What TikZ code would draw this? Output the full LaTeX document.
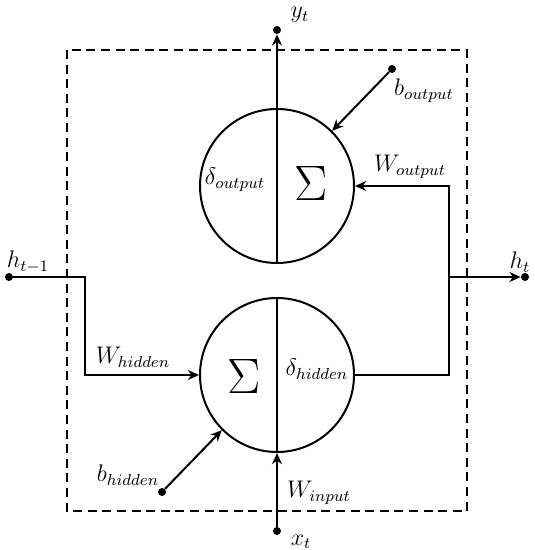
\documentclass[tikz,border=0pt]{standalone}
\usepackage{amssymb}
\usepackage{tikz}
\usetikzlibrary{arrows.meta,positioning,calc}
\definecolor{RNInk}{HTML}{000000}
\tikzset{
  flow/.style={-{Stealth[length=5.6pt,width=5pt]},RNInk,line width=1pt},
  wire/.style={RNInk,line width=1pt},
  frame/.style={RNInk,line width=0.95pt,dash pattern=on 4.5pt off 2.8pt},
  neuron/.style={circle,draw=RNInk,line width=1pt,minimum size=77pt,inner sep=0pt},
  port/.style={circle,fill=RNInk,inner sep=0pt,minimum size=4pt},
  iolabel/.style={text=RNInk,font=\large,inner sep=1pt},
  wlabel/.style={text=RNInk,font=\large,inner sep=1pt},
  sumsign/.style={text=RNInk,font=\fontsize{28}{32}\selectfont,inner sep=0pt},
}
\begin{document}
\begin{tikzpicture}[x=.5pt,y=-.5pt]
    \useasboundingbox (0,0) rectangle (534,550);
    % --- the cell boundary ---
    \draw[frame] (67,50) rectangle (467,511);

    % --- output and hidden units ---
    \node[neuron] (out) at (277,186) {};
    \node[neuron] (hid) at (277,375) {};
    \draw[wire] (hid.north) -- (hid.south);
    \node[sumsign] (outsum) at (311,184) {$\Sigma$};
    \node[iolabel] (outdelta) at (235,180) {$\delta_{output}$};
    \node[sumsign] (hidsum) at (244,377) {$\Sigma$};
    \node[iolabel] (hiddelta) at (317,369) {$\delta_{hidden}$};

    % --- terminals ---
    \node[port] (yt) at (277,30) {};
    \node[port] (xt) at (277,531) {};
    \node[port] (hprev) at (9,277) {};
    \node[port] (ht) at (525,277) {};
    \node[port] (bout) at (392,69) {};
    \node[port] (bhid) at (162,492) {};
    \node[iolabel] (ytlab) at (300,15) {$y_t$};
    \node[iolabel] (xtlab) at (301,542) {$x_t$};
    \node[iolabel] (hprevlab) at (28,262) {$h_{t-1}$};
    \node[iolabel] (htlab) at (520,262) {$h_t$};

    % --- weights and biases ---
    \node[wlabel] (boutlab) at (424,91) {$b_{output}$};
    \node[wlabel] (bhidlab) at (128,475) {$b_{hidden}$};
    \node[wlabel] (woutlab) at (410,167) {$W_{output}$};
    \node[wlabel] (whidlab) at (133,357) {$W_{hidden}$};
    \node[wlabel] (winlab) at (319,493) {$W_{input}$};

    % --- connections ---
    \coordinate (hbend) at (85,277);
    \coordinate (hsplit) at (449,277);
    \draw[flow] (out.south) -- (yt);
    \draw[flow] (xt) -- (hid.south);
    \draw[flow] (hprev) -- (hbend) |- (hid.west);
    \draw[flow] (hid.east) -| (hsplit) |- (out.east);
    \draw[flow] (hsplit) -- (ht);
    \draw[flow] (bout) -- (out.45);
    \draw[flow] (bhid) -- (hid.225);
  \end{tikzpicture}
\end{document}
